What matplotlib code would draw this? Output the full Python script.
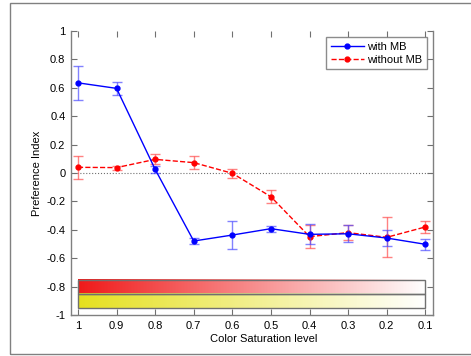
import numpy as np
import matplotlib
matplotlib.use("Agg")
import matplotlib.pyplot as plt
from matplotlib.patches import Rectangle

plt.rcParams['font.family'] = ['Liberation Sans', 'DejaVu Sans']

saturation = [1.0, 0.9, 0.8, 0.7, 0.6, 0.5, 0.4, 0.3, 0.2, 0.1]
with_mb = [0.635, 0.596, 0.026, -0.479, -0.437, -0.392, -0.432, -0.428, -0.458, -0.502]
with_mb_err = [0.12, 0.045, 0.024, 0.02, 0.10, 0.022, 0.07, 0.06, 0.057, 0.04]
without_mb = [0.04, 0.038, 0.096, 0.073, -0.002, -0.167, -0.448, -0.42, -0.453, -0.38]
without_mb_err = [0.08, 0.014, 0.035, 0.044, 0.03, 0.044, 0.08, 0.055, 0.14, 0.042]
xticks = [1, 0.9, 0.8, 0.7, 0.6, 0.5, 0.4, 0.3, 0.2, 0.1]
xtick_labels = ['1', '0.9', '0.8', '0.7', '0.6', '0.5', '0.4', '0.3', '0.2', '0.1']
yticks = [-1, -0.8, -0.6, -0.4, -0.2, 0, 0.2, 0.4, 0.6, 0.8, 1]
ytick_labels = ['-1', '-0.8', '-0.6', '-0.4', '-0.2', '0', '0.2', '0.4', '0.6', '0.8', '1']

W, H = 471, 356
fig = plt.figure(figsize=(W / 100, H / 100), dpi=100)

# outer frame
fig.patches.append(Rectangle((10 / W, 2 / H), 1.2, (353 - 2) / H, transform=fig.transFigure,
                             fill=False, edgecolor='#808080', lw=1.0, clip_on=False))

ax = fig.add_axes([71 / W, (H - 315) / H, (433 - 71) / W, (315 - 31) / H])
ax.set_xlim(1.018, 0.08)
ax.set_ylim(-1, 1)

# saturation gradient bars
grad = np.linspace(0, 1, 256)[None, :]
red_start = np.array([0.94, 0.10, 0.10])
yel_start = np.array([0.90, 0.88, 0.12])
white = np.array([1.0, 1.0, 1.0])
red_img = red_start[None, None, :] * (1 - grad[..., None]) + white * grad[..., None]
yel_img = yel_start[None, None, :] * (1 - grad[..., None]) + white * grad[..., None]
ax.imshow(red_img, extent=(1.0, 0.1, -0.85, -0.75), aspect='auto', zorder=1, interpolation='bilinear')
ax.imshow(yel_img, extent=(1.0, 0.1, -0.95, -0.85), aspect='auto', zorder=1, interpolation='bilinear')
ax.add_patch(Rectangle((0.1, -0.85), 0.9, 0.1, fill=False, edgecolor='#707070', lw=1.0, zorder=2))
ax.add_patch(Rectangle((0.1, -0.95), 0.9, 0.1, fill=False, edgecolor='#707070', lw=1.0, zorder=2))

ax.axhline(0, color='#707070', lw=0.8, ls=':', zorder=2)

eb1 = ax.errorbar(saturation, with_mb, yerr=with_mb_err, color='#0000ff', lw=1.0, marker='.',
                  ms=7, ecolor=(0.3, 0.3, 1.0, 0.7), elinewidth=1.0, capsize=3.5, capthick=1.0,
                  label='with MB', zorder=4)
eb2 = ax.errorbar(saturation, without_mb, yerr=without_mb_err, color='#ff0000', lw=1.0, ls='--',
                  marker='.', ms=7, ecolor=(1.0, 0.3, 0.3, 0.7), elinewidth=1.0, capsize=3.5,
                  capthick=1.0, label='without MB', zorder=3)

ax.set_xticks(xticks)
ax.set_xticklabels(xtick_labels)
ax.set_yticks(yticks)
ax.set_yticklabels(ytick_labels)
ax.tick_params(direction='in', length=4, width=0.8, color='#707070', labelsize=8,
               top=True, right=True, pad=4)
for s in ['left', 'right', 'bottom']:
    ax.spines[s].set_color('#808080')
    ax.spines[s].set_linewidth(1.0)
ax.spines['top'].set_visible(False)

ax.set_xlabel('Color Saturation level', fontsize=8, labelpad=3)
ax.xaxis.set_label_coords((264 - 71) / (433 - 71), -0.068)
ax.set_ylabel('Preference Index', fontsize=8, labelpad=3)

leg = ax.legend(handles=[eb1[0], eb2[0]], labels=['with MB', 'without MB'],
                loc='upper right', fontsize=8, frameon=True, fancybox=False,
                borderpad=0.4, handlelength=3.0, handletextpad=0.3, labelspacing=0.3,
                borderaxespad=0.55)
leg.get_frame().set_edgecolor('#707070')
leg.get_frame().set_linewidth(1.0)

fig.savefig('out.png', dpi=100)
